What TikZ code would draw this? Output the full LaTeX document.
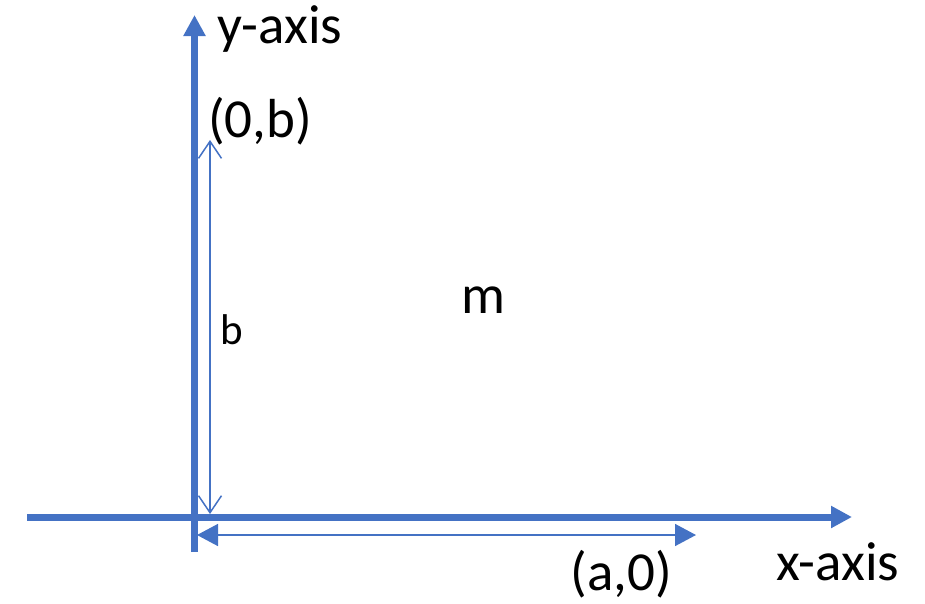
\documentclass[tikz,border=0pt]{standalone}
\usepackage{fontspec}
\setmainfont{Carlito}
\usetikzlibrary{arrows.meta}
\definecolor{axisblue}{HTML}{4472C4}

\begin{document}
\begin{tikzpicture}[x=1pt,y=-1pt,
    axis/.style={axisblue,line width=7pt,-{Triangle[width=21pt,length=21pt]}},
    lenbar/.style={axisblue,line width=1.5pt,{Straight Barb[width=23pt,length=17pt]}-{Straight Barb[width=23pt,length=17pt]}},
    lenarrow/.style={axisblue,line width=1.5pt,{Triangle[width=22pt,length=21pt]}-{Triangle[width=22pt,length=21pt]}},
    lbl/.style={inner sep=0pt,anchor=base,font=\fontsize{55}{62}\selectfont},
    smalllbl/.style={inner sep=0pt,anchor=base,font=\fontsize{43}{49}\selectfont}]
    \useasboundingbox (0,0) rectangle (925,603);

    % axes
    \coordinate (xleft) at (27,517);
    \coordinate (xright) at (852,517);
    \coordinate (ybottom) at (194.5,552);
    \coordinate (ytop) at (194.5,15);
    \draw[axis] (xleft)--(xright);
    \draw[axis] (ybottom)--(ytop);
    \node[lbl] (xname) at (838,580) {x-axis};
    \node[lbl] (yname) at (280,43) {y-axis};

    % b
    \coordinate (bfoot) at (210,514);
    \coordinate (bhead) at (210,140);
    \draw[lenbar] (bfoot)--(bhead);
    \node[smalllbl] (blen) at (232,344) {b};
    \node[lbl] (bpoint) at (260,137) {(0,b)};

    % a
    \coordinate (afoot) at (197,535);
    \coordinate (ahead) at (696,535);
    \draw[lenarrow] (afoot)--(ahead);
    \node[lbl] (apoint) at (621,590) {(a,0)};

    \node[lbl] (slope) at (483,313) {m};

\end{tikzpicture}
\end{document}
